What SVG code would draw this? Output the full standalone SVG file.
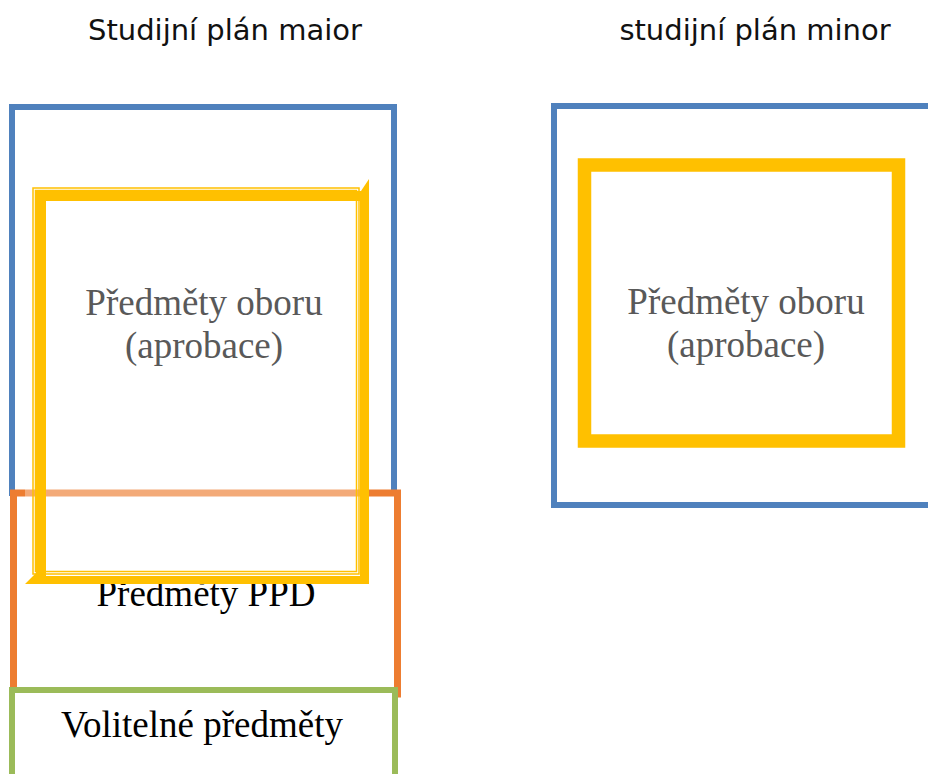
<svg xmlns="http://www.w3.org/2000/svg" width="928" height="774" viewBox="0 0 928 774">
<style>
.title{font-family:"DejaVu Sans",sans-serif;font-size:29px;fill:#111;text-anchor:middle}
.lbl{font-family:"Liberation Serif",serif;font-size:37px;text-anchor:middle}
.grey{fill:#595959}
.blk{fill:#000}
.blue{fill:#fff;stroke:#4F81BD;stroke-width:6}
.orange{fill:#fff;stroke:#ED7D31;stroke-width:7}
.green{fill:#fff;stroke:#9BBB59;stroke-width:6}
.yel{fill:#FFC000}
.thin{fill:none;stroke:#FFC000;stroke-width:1.5}
</style>
<rect width="928" height="774" fill="#fff"/>
<text class="title" x="225" y="40">Studijní plán maior</text>
<text class="title" x="755" y="40">studijní plán minor</text>

<g id="major-box">
<rect class="blue" x="12" y="107" width="382" height="386"/>
</g>
<g id="ppd">
<rect class="orange" x="13.5" y="493" width="384" height="201"/>
<text class="lbl blk" x="206" y="606">Předměty PPD</text>
</g>
<g id="obor-major">
<rect x="25" y="180" width="344" height="404" fill="#fff" fill-opacity="0.35"/>
<rect class="thin" x="33" y="188" width="326" height="386"/>
<rect class="thin" x="35.5" y="190.5" width="321" height="381"/>
<path class="yel" fill-rule="evenodd" d="M36,191 L361,191 L369,179 L369,584 L25,584 L36,573 Z M46,201 L360,201 L360,576 L46,576 Z"/>
<text class="lbl grey" x="204" y="315">Předměty oboru</text>
<text class="lbl grey" x="204" y="358">(aprobace)</text>
</g>
<g id="volitelne">
<rect class="green" x="12" y="690" width="383" height="100"/>
<text class="lbl blk" x="202" y="737">Volitelné předměty</text>
</g>

<g id="minor-box">
<rect class="blue" x="554" y="106" width="400" height="399"/>
</g>
<g id="obor-minor">
<rect x="584.5" y="165" width="314" height="276" fill="none" stroke="#FFC000" stroke-width="13.5"/>
<text class="lbl grey" x="746" y="314">Předměty oboru</text>
<text class="lbl grey" x="746" y="357">(aprobace)</text>
</g>
<g id="connectors"/>
</svg>
